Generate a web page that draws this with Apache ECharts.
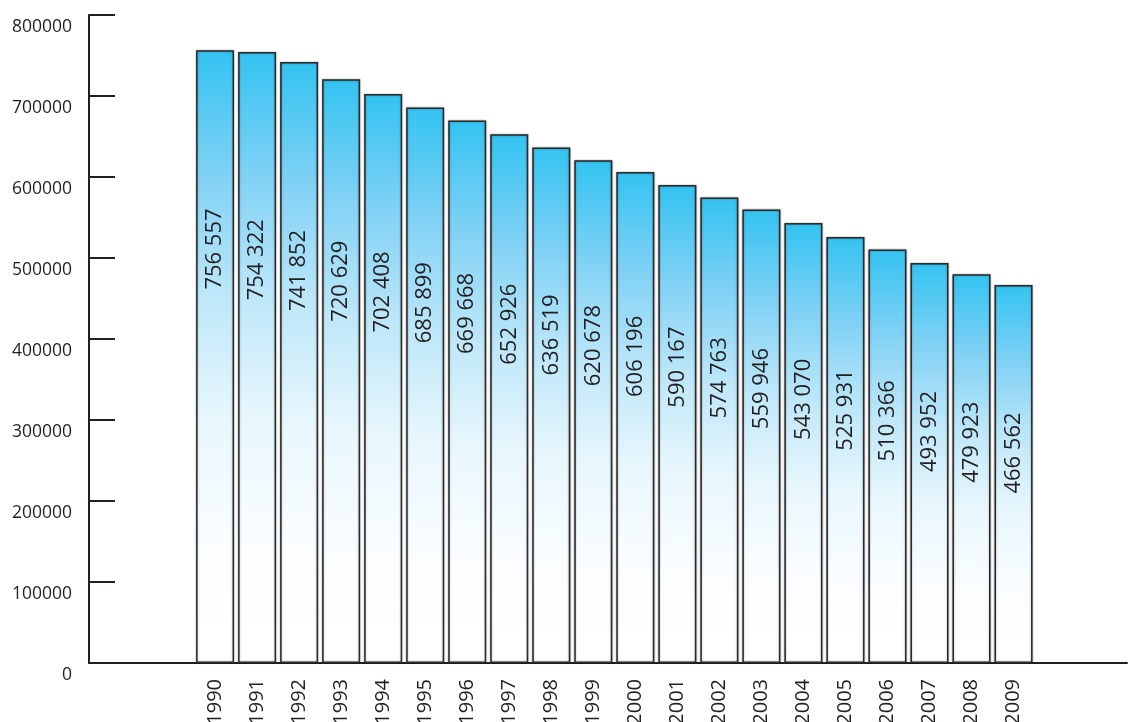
<!DOCTYPE html>
<html>
<head>
<meta charset="utf-8">
<script src="https://cdn.jsdelivr.net/npm/echarts@6/dist/echarts.min.js"></script>
<style>
  html, body { margin: 0; padding: 0; background: #ffffff; }
  #chart { width: 1129px; height: 722px; }
</style>
</head>
<body>
<div id="chart"></div>
<script>
// Yearly totals, 1990–2009
const years = [1990, 1991, 1992, 1993, 1994, 1995, 1996, 1997, 1998, 1999,
               2000, 2001, 2002, 2003, 2004, 2005, 2006, 2007, 2008, 2009];
const values = [756557, 754322, 741852, 720629, 702408, 685899, 669668, 652926, 636519, 620678,
                606196, 590167, 574763, 559946, 543070, 525931, 510366, 493952, 479923, 466562];
const yTicks = [0, 100000, 200000, 300000, 400000, 500000, 600000, 700000, 800000];

const INK = '#231f20';
const FONT = '"Open Sans", "DejaVu Sans", sans-serif';

// value labels sit on a sloping track inside the bars (screen y of the label centre)
const LABEL_TRACK = { first: 249, last: 453 };

function spaced(n) {
  return String(n).replace(/\B(?=(\d{3})+(?!\d))/g, ' ');
}

const chart = echarts.init(document.getElementById('chart'), null, { renderer: 'canvas' });

const barGradient = new echarts.graphic.LinearGradient(0, 0, 0, 1, [
  { offset: 0, color: '#33c3f1' },
  { offset: 0.2, color: '#7fd1f5' },
  { offset: 0.4, color: '#bde7f9' },
  { offset: 0.6, color: '#e8f7fd' },
  { offset: 0.8, color: '#fafdff' },
  { offset: 1, color: '#ffffff' }
]);

function buildOption(labelShifts) {
  return {
    animation: false,
    backgroundColor: '#ffffff',
    grid: {
      left: 89, right: 2, top: 15, bottom: 59,
      containLabel: false,
      outerBoundsMode: 'none'
    },
    xAxis: {
      type: 'value',
      min: 1987,
      max: 2011.7,
      interval: 1,
      splitLine: { show: false },
      axisTick: { show: false },
      axisLine: { show: true, onZero: false, lineStyle: { color: INK, width: 2 } },
      axisLabel: {
        show: true,
        rotate: 90,
        margin: 16,
        color: INK,
        fontFamily: FONT,
        fontSize: 20,
        showMinLabel: true,
        showMaxLabel: false,
        formatter: function (v) {
          return years.indexOf(v) >= 0 ? String(v) : '';
        }
      }
    },
    yAxis: {
      type: 'value',
      min: yTicks[0],
      max: yTicks[yTicks.length - 1],
      interval: yTicks[1] - yTicks[0],
      splitLine: { show: false },
      axisLine: { show: true, lineStyle: { color: INK, width: 2 } },
      axisTick: { show: true, inside: true, length: 26, lineStyle: { color: INK, width: 2 } },
      axisLabel: {
        color: INK,
        fontFamily: FONT,
        fontSize: 17.5,
        margin: 17,
        lineHeight: 24,
        // an empty first line drops each tick value just below its tick
        formatter: function (v) { return '\n' + String(v); }
      }
    },
    series: [{
      type: 'bar',
      barWidth: 38,
      data: years.map(function (y, i) {
        // the label is rotated, so a downward screen shift runs along its negative x
        return {
          value: [y, values[i]],
          label: { offset: [labelShifts ? -labelShifts[i] : 0, 0] }
        };
      }),
      itemStyle: {
        color: barGradient,
        borderColor: '#2b2b2b',
        borderWidth: 1.5,
        shadowColor: 'rgba(0,0,0,0.35)',
        shadowBlur: 2
      },
      label: {
        show: true,
        position: 'inside',
        rotate: 90,
        color: INK,
        fontFamily: FONT,
        fontSize: 22,
        formatter: function (p) { return spaced(p.value[1]); }
      }
    }]
  };
}

chart.setOption(buildOption(null));

// place each value label on the sloping track, relative to its bar's centre
const baseY = chart.convertToPixel({ gridIndex: 0 }, [years[0], 0])[1];
const shifts = years.map(function (y, i) {
  const topY = chart.convertToPixel({ gridIndex: 0 }, [y, values[i]])[1];
  const barCentre = (topY + baseY) / 2;
  const t = i / (years.length - 1);
  const labelCentre = LABEL_TRACK.first + (LABEL_TRACK.last - LABEL_TRACK.first) * t;
  return labelCentre - barCentre;
});
chart.setOption(buildOption(shifts));
</script>
</body>
</html>
